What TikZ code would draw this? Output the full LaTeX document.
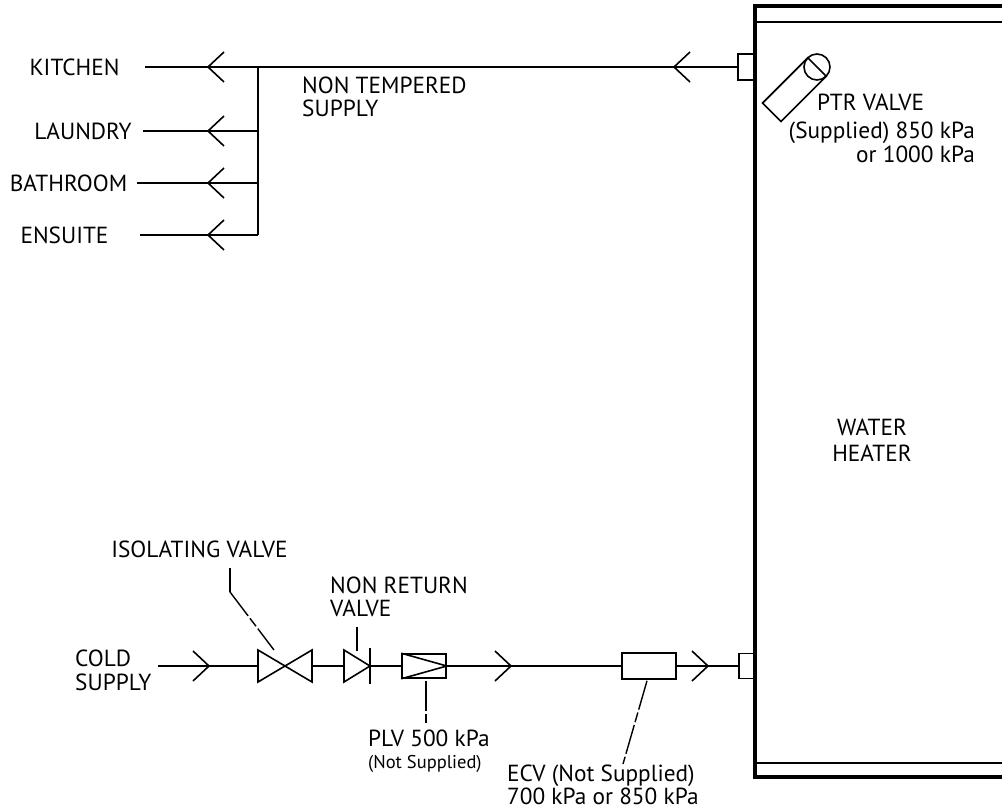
\documentclass[tikz,border=0pt]{standalone}
\usepackage{fontspec}
\setmainfont{PT Sans}
\usetikzlibrary{calc}
\tikzset{
  pipe/.style={line width=1.6pt},
  wall/.style={line width=3.6pt},
  lbl/.style={inner sep=0pt, align=left, font=\fontsize{23.3}{23}\selectfont},
  note/.style={inner sep=0pt, align=left, font=\fontsize{18.5}{20}\selectfont},
  part/.style={draw, line width=1.6pt, inner sep=0pt},
  leader/.style={line width=1.4pt, dash pattern=on 30pt off 3pt on 10pt off 3pt}
}
\newcommand{\flowleft}[1]{\draw[pipe] ($(#1)+(16,-15)$) -- (#1) -- ($(#1)+(16,15)$);}
\newcommand{\flowright}[1]{\draw[pipe] ($(#1)+(-16,-15)$) -- (#1) -- ($(#1)+(-16,15)$);}
\begin{document}
\begin{tikzpicture}[x=1pt,y=-1pt]
\useasboundingbox (0,0) rectangle (1002,811);
\draw[wall] (1004,6) -- (755,6) -- (755,777) -- (1004,777);
\draw[pipe] (755,22) -- (1004,22) (755,763) -- (1004,763);
\node[lbl, align=center, font=\fontsize{23.3}{26}\selectfont] (heater) at (872,440) {WATER\\HEATER};
\node[part, minimum width=16pt, minimum height=26pt] (hotport) at (746,67) {};
\node[part, minimum width=16pt, minimum height=25pt] (coldport) at (747,666) {};
\coordinate (tee) at (258,67);
\draw[pipe] (hotport.west) -- (tee);
\flowleft{674,67}
\foreach \room/\txt/\y/\lx/\sx in {kitchen/KITCHEN/67/74.5/145, laundry/LAUNDRY/131/83/143, bathroom/BATHROOM/183/68.5/137, ensuite/ENSUITE/235/64.5/140}{
  \node[lbl] (\room) at (\lx,\y) {\txt};
  \coordinate (\room-end) at (\sx,\y);
  \draw[pipe] (tee |- \room-end) -- (\room-end);
  \flowleft{208,\y}
}
\draw[pipe] (tee) -- (tee |- ensuite-end);
\node[lbl, anchor=west] (nontemp) at (302,97) {NON TEMPERED\\SUPPLY};
\begin{scope}[shift={(817,67)}, rotate=225]
  \draw[pipe] (0,-13) rectangle (64,13);
  \draw[pipe] (0,0) circle (13);
\end{scope}
\node[lbl, anchor=west] (ptr) at (817,102) {PTR VALVE};
\node[lbl, anchor=north east, align=right, font=\fontsize{23.3}{24}\selectfont] (ptrset) at (975,122) {(Supplied) 850 kPa\\or 1000 kPa};
\node[lbl, anchor=west, font=\fontsize{23.3}{24}\selectfont] (cold) at (75,670) {COLD\\SUPPLY};
\coordinate (coldin) at (158,666);
\coordinate (iv) at (285,666);
\coordinate (iv-in) at (258,666);
\coordinate (iv-out) at (312,666);
\coordinate (nrv) at (370,666);
\coordinate (nrv-in) at (344,666);
\draw[pipe] ($(iv)+(-27,-16)$) -- ($(iv)+(27,16)$) -- ($(iv)+(27,-16)$) -- ($(iv)+(-27,16)$) -- cycle;
\draw[pipe] ($(nrv)+(-26,-16)$) -- (nrv) -- ($(nrv)+(-26,16)$) -- cycle;
\draw[pipe] ($(nrv)+(0,-18)$) -- ($(nrv)+(0,18)$);
\node[part, minimum width=44pt, minimum height=24pt] (plv) at (424,666) {};
\draw[pipe] (plv.north west) -- (plv.east) -- (plv.south west);
\node[part, minimum width=54pt, minimum height=26pt] (ecv) at (649,666) {};
\draw[pipe] (coldin) -- (iv-in);
\flowright{209,666}
\draw[pipe] (iv-out) -- (nrv-in);
\draw[pipe] (nrv) -- (plv.west);
\draw[pipe] (plv.east) -- (ecv.west);
\flowright{511,666}
\draw[pipe] (ecv.east) -- (coldport.west);
\flowright{708,666}
\node[lbl] (isolabel) at (199.5,549.5) {ISOLATING VALVE};
\coordinate (isoknee) at (230,592);
\draw[pipe] (isoknee) -- ++(0,-24);
\draw[leader] (isoknee) -- ($(iv)+(-11,-16)$);
\node[lbl, anchor=west] (nrvlabel) at (330,596.5) {NON RETURN\\VALVE};
\draw[pipe] ($(nrv)+(-13,-39)$) -- ($(nrv)+(-13,-15)$);
\node[lbl, anchor=west] (plvlabel) at (368,738) {PLV 500 kPa};
\node[note, anchor=west] (plvnote) at (368,764) {(Not Supplied)};
\draw[leader] ($(plv.south)+(2,2)$) -- ++(0,42);
\node[lbl, anchor=west, font=\fontsize{23.3}{20}\selectfont] (ecvlabel) at (507,785) {ECV (Not Supplied)\\700 kPa or 850 kPa};
\draw[leader] ($(ecv.south)+(-2,1)$) -- ($(ecvlabel.north west)+(116,-1)$);
\end{tikzpicture}
\end{document}
